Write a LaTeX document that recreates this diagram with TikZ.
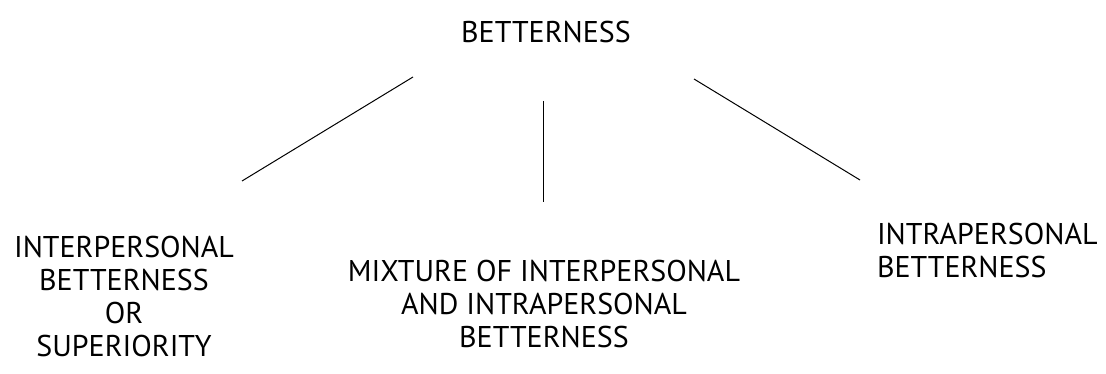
\documentclass[tikz,border=0pt]{standalone}
\usepackage{fontspec}
\setmainfont{PT Sans}
\usetikzlibrary{positioning}

\begin{document}
\begin{tikzpicture}[
  x=1pt,y=-1pt,
  font=\fontsize{30}{33}\selectfont,
  label text/.style={
    inner sep=0pt,
    outer sep=0pt,
    align=center
  },
  branch/.style={
    draw=black,
    line width=1pt
  }
]
\useasboundingbox (0,0) rectangle (1106,374);

\node[label text] (root) at (546,32) {BETTERNESS};

\node[label text] (inter) at (124,296) {INTERPERSONAL\\BETTERNESS\\OR\\SUPERIORITY};
\node[label text] (mixed) at (544,304) {MIXTURE OF INTERPERSONAL\\AND INTRAPERSONAL\\BETTERNESS};
\node[label text,align=left,anchor=west] (intra) at (877,250) {INTRAPERSONAL\\BETTERNESS};

% free ends of the three branches
\coordinate (inter-top) at (413,77);
\coordinate (inter-end) at (242,181);
\coordinate (mixed-top) at (543,101);
\coordinate (mixed-end) at (543,202);
\coordinate (intra-top) at (694,79);
\coordinate (intra-end) at (860,180);

\draw[branch] (inter-top) -- (inter-end);
\draw[branch] (mixed-top) -- (mixed-end);
\draw[branch] (intra-top) -- (intra-end);

\end{tikzpicture}
\end{document}
